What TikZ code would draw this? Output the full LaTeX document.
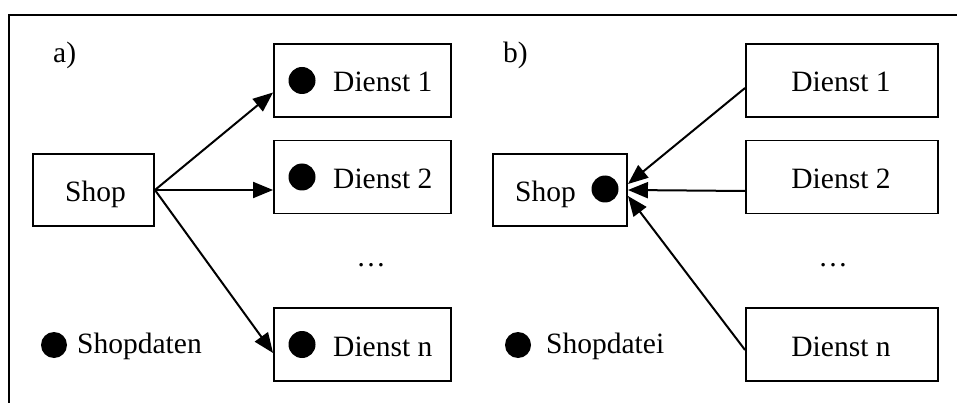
\documentclass[tikz,border=0pt]{standalone}
\usepackage{fontspec}
\setmainfont{Liberation Serif}
\usetikzlibrary{arrows.meta,calc}
\begin{document}
\begin{tikzpicture}[x=1pt,y=-1pt,
  font=\fontsize{29.5}{34}\selectfont,
  box/.style={draw, line width=1.9pt, inner sep=0pt, minimum height=73pt},
  lbl/.style={anchor=base west, inner sep=0pt},
  clbl/.style={anchor=base, inner sep=0pt},
  conn/.style={line width=2pt, -{Triangle[length=20pt,width=16pt]}},
  datadot/.style={circle, fill, inner sep=0pt, minimum size=27pt}]
\useasboundingbox (0,0) rectangle (957,403);

% frame (top and left edge only)
\draw[line width=2.4pt] (9,403) -- (9,15) -- (957,15);

% ---------- part a) ----------
\node[lbl] (labA) at (53,63) {a)};

\node[box, minimum width=121pt, minimum height=72pt] (shopA) at (93.5,190) {};
\node[lbl] (shopAtxt) at (65,201.5) {Shop};

\node[box, minimum width=177pt] (a1) at (362.5,80.5) {};
\node[box, minimum width=177pt] (a2) at (362.5,177) {};
\node[box, minimum width=177pt] (an) at (362.5,344.5) {};

\node[datadot] (a1dot) at (302,80.5) {};
\node[datadot] (a2dot) at (302,177) {};
\node[datadot] (andot) at (302,344.5) {};

\node[lbl] (a1txt) at (333,92) {Dienst 1};
\node[lbl] (a2txt) at (333,188.5) {Dienst 2};
\node[lbl] (antxt) at (333,356) {Dienst n};

\node[clbl] (aell) at (371,266) {…};

\draw[conn] (shopA.east) -- ($(a1.west)+(0,12)$);
\draw[conn] (shopA.east) -- ($(a2.west)+(0,13)$);
\draw[conn] (shopA.east) -- ($(an.west)+(0,8.5)$);

\node[datadot, minimum size=26pt] (legA) at (54,345) {};
\node[lbl] (legAtxt) at (77,353) {Shopdaten};

% ---------- part b) ----------
\node[lbl] (labB) at (503,63) {b)};

\node[box, minimum width=134pt, minimum height=72pt] (shopB) at (560,190) {};
\node[lbl] (shopBtxt) at (515,201.5) {Shop};
\node[datadot] (shopBdot) at (605,189) {};

\node[box, minimum width=192pt] (b1) at (842,80.5) {};
\node[box, minimum width=192pt] (b2) at (842,177) {};
\node[box, minimum width=192pt] (bn) at (842,344.5) {};

\node[clbl] (b1txt) at (841,92) {Dienst 1};
\node[clbl] (b2txt) at (841,188.5) {Dienst 2};
\node[clbl] (bntxt) at (841,356) {Dienst n};

\node[clbl] (bell) at (833,266) {…};

\draw[conn] ($(b1.west)+(0,7.5)$) -- ($(shopB.east)+(0,-6)$);
\draw[conn] ($(b2.west)+(0,14)$) -- (shopB.east);
\draw[conn] ($(bn.west)+(0,5.5)$) -- ($(shopB.east)+(0,6)$);

\node[datadot, minimum size=26pt] (legB) at (518,345) {};
\node[lbl] (legBtxt) at (546,353) {Shopdatei};
\end{tikzpicture}
\end{document}
